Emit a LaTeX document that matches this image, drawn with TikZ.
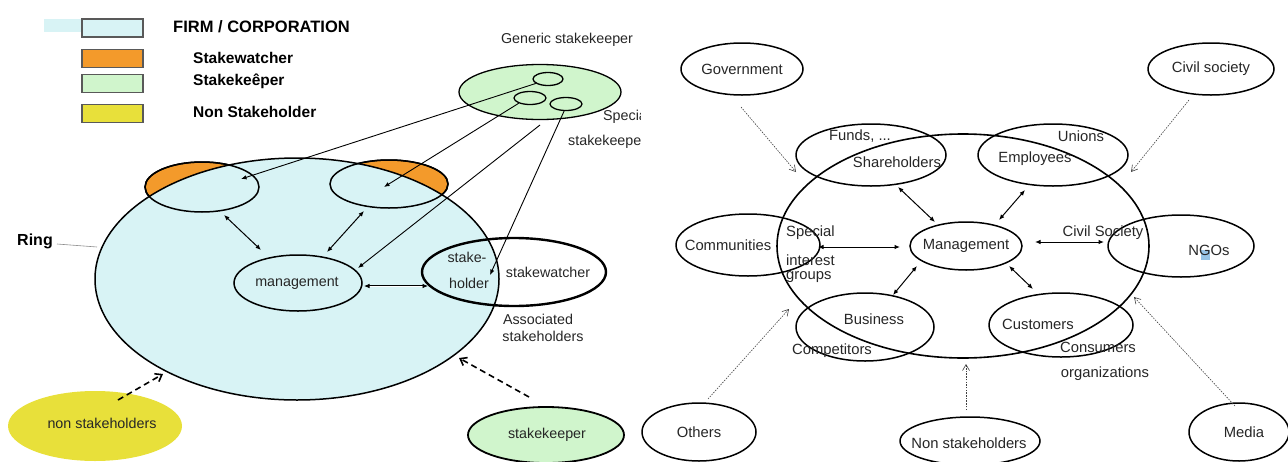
\documentclass[tikz,border=0pt]{standalone}
\usepackage{fontspec}
\setmainfont{Liberation Sans}
\usetikzlibrary{shapes.geometric,arrows.meta}
\definecolor{firmfill}{RGB}{216,243,245}
\definecolor{watchfill}{RGB}{243,154,43}
\definecolor{keepfill}{RGB}{208,245,204}
\definecolor{nonfill}{RGB}{232,224,58}
\definecolor{selblue}{RGB}{150,196,230}
\begin{document}
\begin{tikzpicture}[x=1pt,y=-1pt,
  txt/.style={font=\fontsize{14.3}{16}\selectfont, text=black!85, inner sep=0pt},
  txtr/.style={font=\fontsize{14.8}{16}\selectfont, text=black!85, inner sep=0pt},
  legtxt/.style={font=\bfseries\fontsize{15.5}{17}\selectfont, inner sep=0pt, anchor=west},
  legbox/.style={draw=black!65, line width=1.3pt, minimum width=61pt, minimum height=18pt, inner sep=0pt},
  oval/.style={ellipse, draw, line width=1.5pt, inner sep=0pt},
  dbl/.style={{Latex[length=5.5pt,width=4.5pt]}-{Latex[length=5.5pt,width=4.5pt]}, line width=1pt},
  onearrow/.style={-{Latex[length=5.5pt,width=4.5pt]}, line width=0.9pt},
  dasharrow/.style={dash pattern=on 6pt off 4pt, line width=1.6pt, -{Straight Barb[length=6pt,width=9pt]}},
  dotarrow/.style={line width=0.6pt, dash pattern=on 1.5pt off 1.2pt, black!75, -{Straight Barb[length=6pt,width=7pt]}},
]
\useasboundingbox (0,0) rectangle (1288,461);

% ---------------- legend ----------------
\fill[firmfill] (44,19) rectangle (82,32);
\node[legbox, fill=firmfill] (lgFirm) at (112.5,28) {};
\node[legbox, fill=watchfill] (lgWatch) at (112.5,58.5) {};
\node[legbox, fill=keepfill] (lgKeep) at (112.5,83.5) {};
\node[legbox, fill=nonfill] (lgNon) at (112.5,113.5) {};
\node[legtxt, font=\bfseries\fontsize{16.5}{18}\selectfont] (lgFirmT) at (173,27) {FIRM / CORPORATION};
\node[legtxt] (lgWatchT) at (193,58) {Stakewatcher};
\node[legtxt] (lgKeepT) at (193,81) {Stakekeêper};
\node[legtxt] (lgNonT) at (193,112) {Non Stakeholder};

% ---------------- left panel: the ring ----------------
\node[oval, fill=watchfill, minimum width=114pt, minimum height=50pt] (watchL) at (202,187) {};
\node[oval, fill=watchfill, minimum width=118pt, minimum height=48pt] (watchR) at (389,184) {};
\node[oval, fill=firmfill, minimum width=404pt, minimum height=242pt] (firm) at (297,279) {};
\node[oval, minimum width=114pt, minimum height=50pt] (watchLo) at (202,187) {};
\node[oval, minimum width=118pt, minimum height=48pt] (watchRo) at (389,184) {};

\node[font=\bfseries\fontsize{16}{18}\selectfont, inner sep=0pt] (ring) at (35,241) {Ring};
\coordinate (ringEnd) at (97,247);
\draw[black!45, line width=0.6pt] (57,244) -- (ringEnd);

\node[oval, minimum width=128pt, minimum height=56pt] (mgL) at (298,283) {};
\node[txt] (mgLT) at (297,283) {management};
\node[oval, line width=2.4pt, minimum width=184pt, minimum height=68pt] (holder) at (514,272) {};
\node[txt] (holderA) at (467,257) {stake-};
\node[txt] (holderB) at (469,283) {holder};
\node[txt] (holderC) at (548,272) {stakewatcher};
\node[txt] (assocA) at (538,319) {Associated};
\node[txt] (assocB) at (543,336) {stakeholders};

% generic stakekeeper
\node[oval, line width=1.3pt, fill=keepfill, minimum width=162pt, minimum height=55pt] (gen) at (540,92) {};
\node[oval, line width=1.3pt, minimum width=30pt, minimum height=13pt] (g1) at (548,79) {};
\node[oval, line width=1.3pt, minimum width=32pt, minimum height=13pt] (g2) at (530,98) {};
\node[oval, line width=1.3pt, minimum width=32pt, minimum height=13pt] (g3) at (566,104) {};
\node[txt] (genT) at (567,40) {Generic stakekeeper};
\begin{scope}
  \clip (0,0) rectangle (640,461);
  \node[txt, anchor=west] (specA) at (603,117) {Special};
  \node[txt, anchor=west] (specB) at (568,142) {stakekeeper};
\end{scope}

% connectors from the stakekeepers
\coordinate (tipWL) at (241,179);
\coordinate (tipWR) at (384,187);
\coordinate (genFoot) at (540,125);
\coordinate (tipMg) at (358,268);
\coordinate (tipHolder) at (490,275);
\draw[onearrow] (g1.200) -- (tipWL);
\draw[onearrow] (g2.205) -- (tipWR);
\draw[onearrow] (genFoot) -- (tipMg);
\draw[onearrow] (g3.255) -- (tipHolder);

\coordinate (wl1) at (224,215); \coordinate (wl2) at (261,250);
\coordinate (wr1) at (364,211); \coordinate (wr2) at (327,252);
\coordinate (mh1) at (364,286); \coordinate (mh2) at (428,286);
\draw[dbl] (wl1) -- (wl2);
\draw[dbl] (wr1) -- (wr2);
\draw[dbl, line width=0.8pt, double, double distance=0.9pt] (mh1) -- (mh2);

% outsiders
\node[ellipse, fill=nonfill, inner sep=0pt, minimum width=174pt, minimum height=70pt] (nonL) at (95,426) {};
\node[txt] (nonLT) at (102,423) {non stakeholders};
\node[oval, line width=1.8pt, fill=keepfill, minimum width=156pt, minimum height=56pt] (keep) at (546,435) {};
\node[txt] (keepT) at (547,435) {stakekeeper};
\coordinate (nonStart) at (118,400); \coordinate (nonTip) at (163,374);
\coordinate (keepStart) at (529,397); \coordinate (keepTip) at (459,358);
\draw[dasharrow] (nonStart) -- (nonTip);
\draw[dasharrow] (keepStart) -- (keepTip);

% ---------------- right panel ----------------
\fill[selblue] (1201,250) rectangle (1210,260);
\node[oval, line width=1.6pt, minimum width=372pt, minimum height=224pt] (corp) at (963,246) {};
\node[oval, minimum width=150pt, minimum height=62pt] (share) at (871,155) {};
\node[oval, minimum width=150pt, minimum height=62pt] (emp) at (1053,155) {};
\node[oval, minimum width=144pt, minimum height=62pt] (comm) at (748,245) {};
\node[oval, minimum width=112pt, minimum height=48pt] (mgR) at (966,246) {};
\node[oval, minimum width=146pt, minimum height=62pt] (ngo) at (1181,246) {};
\node[oval, minimum width=138pt, minimum height=68pt] (bus) at (865,327) {};
\node[oval, minimum width=144pt, minimum height=64pt] (cust) at (1061,325) {};
\node[oval, minimum width=122pt, minimum height=52pt] (gov) at (742,69) {};
\node[oval, minimum width=126pt, minimum height=52pt] (civ) at (1211,69) {};
\node[oval, minimum width=114pt, minimum height=58pt] (oth) at (699,432) {};
\node[oval, minimum width=140pt, minimum height=48pt] (nsr) at (970,441) {};
\node[oval, minimum width=100pt, minimum height=58pt] (med) at (1239,432) {};

\node[txtr] at (860,136) {Funds, ...};
\node[txtr] at (897,162) {Shareholders};
\node[txtr] at (1081,136) {Unions};
\node[txtr] at (1035,159) {Employees};
\node[txtr] at (728,245) {Communities};
\node[txtr, anchor=west] at (786,233) {Special};
\node[txtr, anchor=west] at (786,260) {interest};
\node[txtr, anchor=west] at (786,277) {groups};
\node[txtr] at (966,246) {Management};
\node[txtr] at (1103,233) {Civil Society};
\node[txtr] at (1209,250) {NGOs};
\node[txtr] at (874,319) {Business};
\node[txtr] at (832,351) {Competitors};
\node[txtr] at (1038,324) {Customers};
\node[txtr] at (1098,347) {Consumers};
\node[txtr] at (1105,374) {organizations};
\node[txtr] at (742,69) {Government};
\node[txtr] at (1211,69) {Civil society};
\node[txtr] at (699,432) {Others};
\node[txtr] at (969,443) {Non stakeholders};
\node[txtr] at (1244,432) {Media};

% management links
\coordinate (sh1) at (898,187); \coordinate (sh2) at (935,222);
\coordinate (em1) at (1025,190); \coordinate (em2) at (999,220);
\coordinate (co1) at (818,247); \coordinate (co2) at (900,247);
\coordinate (cs1) at (1035,242); \coordinate (cs2) at (1104,242);
\coordinate (bu1) at (917,266); \coordinate (bu2) at (893,295);
\coordinate (cu1) at (1009,266); \coordinate (cu2) at (1033,289);
\draw[dbl] (sh1) -- (sh2);
\draw[dbl] (em1) -- (em2);
\draw[dbl] (co1) -- (co2);
\draw[dbl] (cs1) -- (cs2);
\draw[dbl] (bu1) -- (bu2);
\draw[dbl] (cu1) -- (cu2);

% outside influences
\coordinate (govS) at (741,107); \coordinate (govT) at (796,172);
\coordinate (civS) at (1189,100); \coordinate (civT) at (1131,172);
\coordinate (othS) at (708,399); \coordinate (othT) at (789,309);
\coordinate (nsrS) at (966,410); \coordinate (nsrT) at (966,364);
\coordinate (medS) at (1235,406); \coordinate (medT) at (1134,297);
\draw[dotarrow] (govS) -- (govT);
\draw[dotarrow] (civS) -- (civT);
\draw[dotarrow] (othS) -- (othT);
\draw[dotarrow] (nsrS) -- (nsrT);
\draw[dotarrow] (medS) -- (medT);
\end{tikzpicture}
\end{document}
